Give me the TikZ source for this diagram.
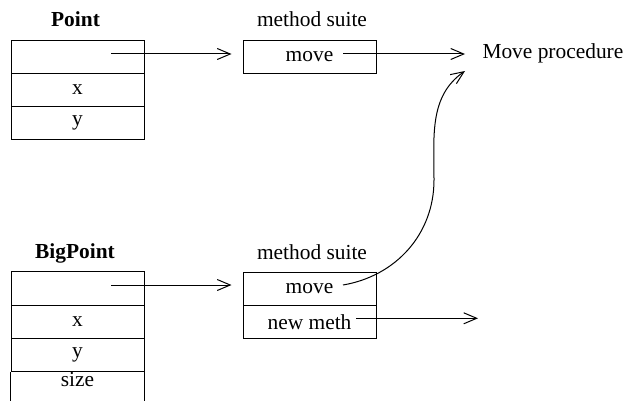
\documentclass[tikz,border=0pt]{standalone}
\usepackage{fontspec}
\setmainfont{Liberation Serif}
\usetikzlibrary{arrows.meta}
\begin{document}
\begin{tikzpicture}[x=0.5pt,y=-0.5pt,
  every node/.style={font=\fontsize{10.7}{12}\selectfont},
  cell/.style={draw, line width=0.5pt, minimum width=66.5pt, minimum height=16.65pt, inner sep=0pt},
  title/.style={anchor=base, inner sep=0pt},
  ptr/.style={line width=0.5pt, -{Straight Barb[length=6.5pt,width=5.5pt]}},
  line width=0.5pt]
\useasboundingbox (0,0) rectangle (626,401);
% Point
\node[title, font=\fontsize{10.7}{12}\selectfont\bfseries] (pt) at (75.5,26.7) {Point};
\node[cell] (p0) at (77.5,57) {};
\node[cell] (px) at (77.5,90) {x};
\node[cell] (py) at (77.5,123.3) {y};
% method suite 1
\node[title] (ms1t) at (312,26.7) {method suite};
\node[cell] (m1a) at (309.5,57) {move};
% Move procedure
\node[anchor=base west, inner sep=0pt] (proc) at (482,58.3) {Move procedure};
% BigPoint
\node[title, font=\fontsize{10.7}{12}\selectfont\bfseries] (bpt) at (75,258) {BigPoint};
\node[cell] (b0) at (77.5,288.4) {};
\node[cell] (bx) at (77.5,321.7) {\raisebox{-3pt}{x}};
\node[cell] (by) at (77.5,355) {y};
\node[title] (bsize) at (77.5,386.7) {size};
\draw (by.south west) -- ++(0,30);
\draw (by.south east) -- ++(0,30);
% method suite 2
\node[title] (ms2t) at (312,259.3) {method suite};
\node[cell] (m2a) at (309.5,288.7) {move};
\node[cell] (m2b) at (309.5,321.7) {new meth};
% connectors
\coordinate (p0s) at (111,54);
\draw[ptr, shorten >=5.5pt] (p0s) -- (p0s -| m1a.west);
\coordinate (m1s) at (343,54);
\draw[ptr, shorten >=8.5pt] (m1s) -- (m1s -| proc.west);
\coordinate (b0s) at (111,285);
\draw[ptr, shorten >=5.5pt] (b0s) -- (b0s -| m2a.west);
\coordinate (m2s) at (343,285);
\coordinate (cv) at (434,180);
\coordinate (ptip) at (465,71);
\draw[ptr] (m2s) .. controls (396,276) and (434,234) .. (cv)
  .. controls (434,136) and (429,96) .. (ptip);
\coordinate (nms) at (356,318.3);
\coordinate (nme) at (478,318.3);
\draw[ptr] (nms) -- (nme);
\end{tikzpicture}
\end{document}
